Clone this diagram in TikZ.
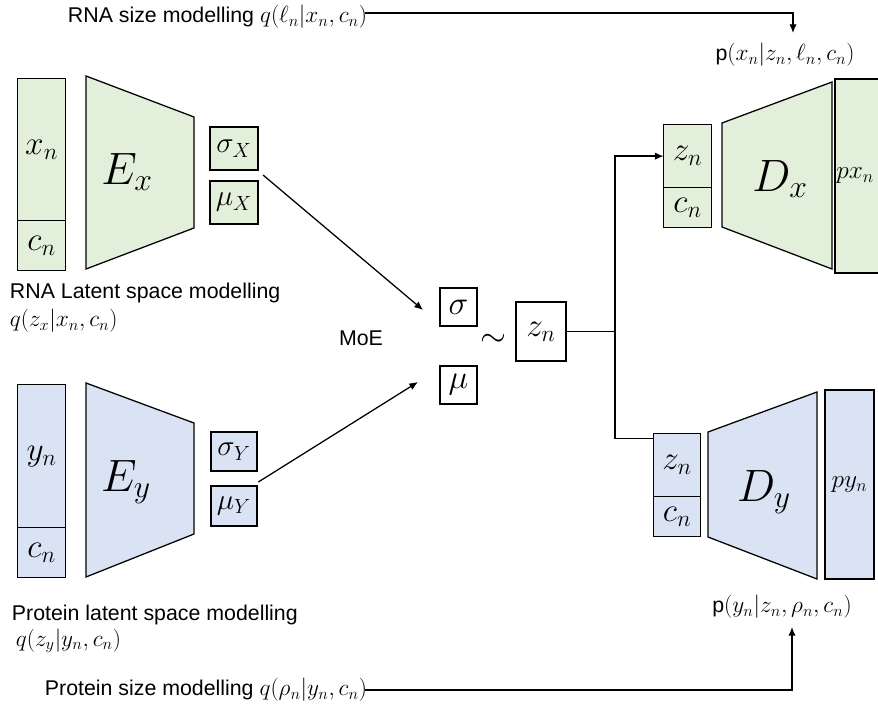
\documentclass[tikz,border=0pt]{standalone}
\usepackage{fontspec}
\setmainfont{Liberation Sans}
\usepackage{tikz}
\usetikzlibrary{matrix,arrows.meta}
\DeclareFontShape{OML}{cmm}{m}{it}{<-6>cmmi5 <6-8>cmmi7 <8-11>cmmi10 <11->cmmi12}{}
\DeclareFontShape{OMS}{cmsy}{m}{n}{<-6>cmsy5 <6-8>cmsy7 <8->cmsy10}{}
\definecolor{rnagreen}{RGB}{226,239,218}
\definecolor{protblue}{RGB}{218,227,243}
\newcommand{\lmath}[1]{{\fontsize{17.5}{17.5}\selectfont$#1$}}

\begin{document}
\begin{tikzpicture}[x=0.75pt,y=-0.75pt,line width=0.95pt,
	stack/.style={matrix of nodes,row sep=-0.95pt,inner sep=0pt,outer sep=0pt,anchor=north west,
		nodes={draw,fill=#1,inner sep=0pt,outer sep=0pt,font=\fontsize{25}{25}\selectfont}},
	box/.style={draw,inner sep=0pt,outer sep=0pt,font=\fontsize{22}{22}\selectfont},
	trap/.style={draw,line join=miter},
	net/.style={font=\fontsize{34}{34}\selectfont},
	lbl/.style={font=\fontsize{16}{18}\selectfont,inner sep=1pt},
	arr/.style={-{Latex[length=6.5pt,width=5.5pt]}}]
\useasboundingbox (0,0) rectangle (878,713);

	% RNA encoder
	\matrix [stack=rnagreen,
	column 1/.style={nodes={minimum width=36pt}},
	row 1/.style={nodes={minimum height=106.5pt}},
	row 2/.style={nodes={minimum height=37.5pt}},
	] (inx) at (17,78)
	{
	$x_n$\\
	$c_n$\\
	};
	\filldraw[trap,fill=rnagreen] (86,76) -- (194,117) -- (194,228) -- (86,269) -- cycle;
	\node[net] (ex) at (127,172) {$E_x$};
	\node[box,fill=rnagreen,minimum width=36pt,minimum height=32.25pt] (sx) at (234,148.5) {$\sigma_X$};
	\node[box,fill=rnagreen,minimum width=36pt,minimum height=32.25pt] (mx) at (234,202.5) {$\mu_X$};

	% protein encoder
	\matrix [stack=protblue,
	column 1/.style={nodes={minimum width=36pt}},
	row 1/.style={nodes={minimum height=107.25pt}},
	row 2/.style={nodes={minimum height=37.5pt}},
	] (iny) at (17,384)
	{
	$y_n$\\
	$c_n$\\
	};
	\filldraw[trap,fill=protblue] (86,383) -- (194,423) -- (194,534) -- (86,577) -- cycle;
	\node[net] (ey) at (126,482) {$E_y$};
	\node[box,fill=protblue,minimum width=34.5pt,minimum height=29.25pt] (sy) at (234,451.5) {$\sigma_Y$};
	\node[box,fill=protblue,minimum width=34.5pt,minimum height=30pt] (my) at (234,506) {$\mu_Y$};

	% mixture of experts
	\node[lbl] (moe) at (361,338) {MoE};
	\node[box,font=\fontsize{25}{25}\selectfont,minimum width=27.75pt,minimum height=28.5pt] (sig) at (458.5,307) {$\sigma$};
	\node[box,font=\fontsize{25}{25}\selectfont,minimum width=27.75pt,minimum height=28.5pt] (mu) at (458.5,385) {$\mu$};
	\node[font=\fontsize{25}{25}\selectfont] (tld) at (493,340) {$\sim$};
	\node[box,font=\fontsize{25}{25}\selectfont,minimum width=37.5pt,minimum height=44.25pt] (zn) at (541,331.5) {$z_n$};

	% RNA decoder
	\matrix [stack=rnagreen,
	column 1/.style={nodes={minimum width=36pt}},
	row 1/.style={nodes={minimum height=47.25pt}},
	row 2/.style={nodes={minimum height=30pt}},
	] (dx) at (663,124)
	{
	$z_n$\\
	$c_n$\\
	};
	\filldraw[trap,fill=rnagreen] (722,123) -- (832,82) -- (832,269) -- (722,227) -- cycle;
	\node[net] (decx) at (780,179) {$D_x$};
	\node[box,fill=rnagreen,font=\fontsize{19}{19}\selectfont,text width=38pt,inner xsep=1pt,align=left,minimum height=145.5pt,anchor=north west] (px) at (835,79) {$px_n$};

	% protein decoder
	\matrix [stack=protblue,
	column 1/.style={nodes={minimum width=35.25pt}},
	row 1/.style={nodes={minimum height=47.25pt}},
	row 2/.style={nodes={minimum height=30pt}},
	] (dy) at (653,433)
	{
	$z_n$\\
	$c_n$\\
	};
	\filldraw[trap,fill=protblue] (708,432) -- (817,392) -- (817,579) -- (708,537) -- cycle;
	\node[net] (decy) at (764,492) {$D_y$};
	\node[box,fill=protblue,font=\fontsize{19}{19}\selectfont,minimum width=36.75pt,minimum height=141.75pt] (py) at (849.5,484.5) {$py_n$};

	% labels
	\node[lbl,anchor=west] (rnasize) at (66,17) {RNA size modelling \lmath{q(\ell_n|x_n,c_n)}};
	\node[lbl] (pxlbl) at (785,55) {p\lmath{(x_n|z_n,\ell_n,c_n)}};
	\node[lbl,anchor=west] (rnalat) at (8,293) {RNA Latent space modelling};
	\node[lbl,anchor=west] (rnaq) at (8,321) {\lmath{q(z_x|x_n,c_n)}};
	\node[lbl,anchor=west] (protlat) at (10,615) {Protein latent space modelling};
	\node[lbl,anchor=west] (protq) at (14,641) {\lmath{q(z_y|y_n,c_n)}};
	\node[lbl,anchor=west] (protsize) at (43,690) {Protein size modelling \lmath{q(\rho_n|y_n,c_n)}};
	\node[lbl] (pylbl) at (782,607) {p\lmath{(y_n|z_n,\rho_n,c_n)}};
	\coordinate (xdrop) at (793,33);
	\coordinate (ydrop) at (792,627);

	% connectors
	\draw[arr] ([xshift=3.75pt,yshift=-3.75pt]sx.south east) -- ([xshift=-12.75pt,yshift=-2.25pt]sig.west);
	\draw[arr] ([xshift=1pt,yshift=3pt]my.north east) -- ([xshift=-16.5pt,yshift=2.25pt]mu.west);
	\draw (zn.east) -- ++(49,0) coordinate (fork);
	\draw[arr] (fork) |- (dx-1-1.west);
	\draw (fork) |- ([yshift=-3.75pt]dy-1-1.north west);
	\draw[arr] ([xshift=-3pt,yshift=3pt]rnasize.east) -| (xdrop);
	\draw[arr] ([xshift=-3pt]protsize.east) -| (ydrop);
\end{tikzpicture}
\end{document}
